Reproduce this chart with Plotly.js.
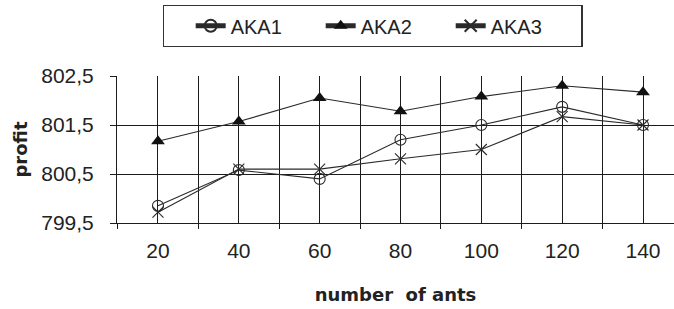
<!DOCTYPE html>
<html>
<head>
<meta charset="utf-8">
<script src="https://cdn.plot.ly/plotly-3.0.1.min.js"></script>
<style>html,body{margin:0;padding:0;background:#fff;}#chart{width:674px;height:309px;}</style>
</head>
<body>
<div id="chart"></div>
<script>
const categories = [20, 40, 60, 80, 100, 120, 140];
const aka1 = [799.85, 800.58, 800.4, 801.2, 801.5, 801.87, 801.5];
const aka2 = [801.17, 801.57, 802.05, 801.78, 802.08, 802.3, 802.17];
const aka3 = [799.72, 800.6, 800.6, 800.81, 801.0, 801.67, 801.5];
const yTicks = [799.5, 800.5, 801.5, 802.5];
const seriesNames = ['AKA1', 'AKA2', 'AKA3'];
const boundaries = categories.map(c => c - 10);

const lineStyle = {color: '#2a2a2a', width: 1.1};
const traces = [
  {x: categories, y: aka1, name: seriesNames[0], mode: 'lines+markers', line: lineStyle,
   marker: {symbol: 'circle-open', size: 11, color: '#2a2a2a', line: {width: 1.1, color: '#2a2a2a'}}},
  {x: categories, y: aka2, name: seriesNames[1], mode: 'lines+markers', line: lineStyle,
   marker: {symbol: 'triangle-up', size: 12, color: '#111'}},
  {x: categories, y: aka3, name: seriesNames[2], mode: 'lines+markers', line: lineStyle,
   marker: {symbol: 'x-thin-open', size: 11, color: '#2a2a2a', line: {width: 1.1, color: '#2a2a2a'}}},
  {x: categories, y: aka1, xaxis: 'x2', showlegend: false, hoverinfo: 'skip', mode: 'none'}
];

const gridC = '#1c1c1c';
const layout = {
  width: 674, height: 309,
  margin: {l: 117, r: 0, t: 76, b: 86},
  paper_bgcolor: '#fff', plot_bgcolor: '#fff',
  separators: ',.',
  font: {family: 'Liberation Sans, Arial, sans-serif', color: '#222'},
  showlegend: true,
  legend: {
    orientation: 'h', xref: 'container', yref: 'container',
    x: 0.553, xanchor: 'center', y: 0.984, yanchor: 'top',
    bordercolor: '#333', borderwidth: 1.3, bgcolor: '#fff',
    font: {size: 20, family: 'Liberation Sans, Arial, sans-serif', color: '#222'},
    title: {text: '&nbsp;&nbsp;&nbsp;', side: 'left', font: {size: 20}},
    entrywidth: 85, entrywidthmode: 'pixels', itemsizing: 'constant'
  },
  xaxis: {
    range: [9.86, 147.67], tickmode: 'array', tickvals: boundaries,
    showticklabels: false, ticks: 'outside', ticklen: 5, tickcolor: gridC, tickwidth: 1,
    showgrid: true, gridcolor: gridC, gridwidth: 1,
    showline: true, linecolor: gridC, linewidth: 1, zeroline: false
  },
  xaxis2: {
    overlaying: 'x', matches: 'x', range: [9.86, 147.67], side: 'bottom',
    tickmode: 'array', tickvals: categories, ticktext: categories.map(String),
    ticks: '', ticklabelstandoff: 13,
    tickfont: {size: 21, family: 'Liberation Sans, Arial, sans-serif', color: '#222'},
    showgrid: true, gridcolor: gridC, gridwidth: 1, zeroline: false, showline: false,
    title: {text: 'number  of ants', font: {family: 'DejaVu Sans, sans-serif', size: 18, color: '#222', weight: 'bold'}, standoff: 27}
  },
  yaxis: {
    range: [799.5, 802.5], tickmode: 'array', tickvals: yTicks, tickformat: '.1f',
    ticks: 'outside', ticklen: 6, tickcolor: gridC, tickwidth: 1, ticklabelstandoff: 12,
    tickfont: {size: 21, family: 'Liberation Sans, Arial, sans-serif', color: '#222'},
    showgrid: true, gridcolor: gridC, gridwidth: 1,
    showline: true, linecolor: gridC, linewidth: 1, zeroline: false,
    title: {text: 'profit', font: {family: 'DejaVu Sans, sans-serif', size: 18, color: '#222', weight: 'bold'}, standoff: 8}
  }
};

Plotly.newPlot('chart', traces, layout, {staticPlot: true, displayModeBar: false});
</script>
</body>
</html>
